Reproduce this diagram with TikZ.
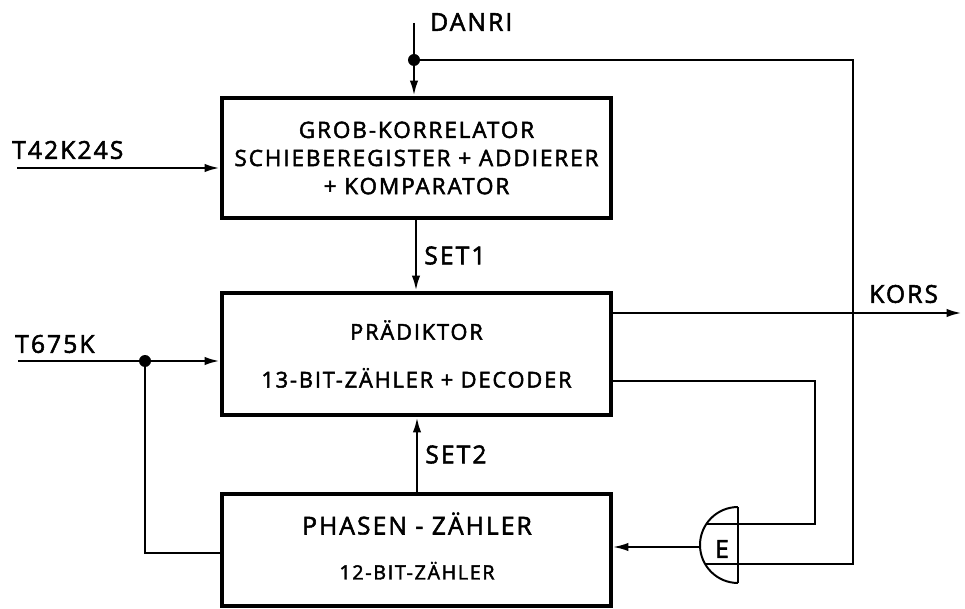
\documentclass[tikz,border=0pt]{standalone}
\usepackage{fontspec}
\setmainfont{Open Sans}[LetterSpace=8.5,UprightFeatures={FakeBold=2.2}]
\usepackage{tikz}
\usetikzlibrary{arrows.meta,calc}

\begin{document}
\begin{tikzpicture}[x=0.025cm,y=0.025cm,>={Latex[length=11pt,width=6pt]},
    block/.style={draw,line width=2.8pt,minimum width=9.725cm,align=center,inner sep=0pt},
    sig/.style={line width=1.9pt},
    thin sig/.style={line width=1.4pt},
    lbl/.style={font=\fontsize{17.5}{20}\selectfont,inner sep=0pt}]
  \useasboundingbox (0,0) rectangle (965,-609);
  % blocks
  \node[block,minimum height=3.0cm,font=\fontsize{16}{20}\selectfont] (grob) at (416.5,-158)
    {GROB-KORRELATOR\\
     SCHIEBEREGISTER + ADDIERER\\
     + KOMPARATOR};
  \node[block,minimum height=3.05cm,font=\fontsize{15.5}{19}\selectfont] (pred) at (416.5,-354)
    {PRÄDIKTOR\\[15pt]
     13-BIT-ZÄHLER + DECODER};
  \node[block,minimum height=2.8cm] (phase) at (416.5,-550) {};
  \node[align=center,inner sep=0pt,font=\fontsize{14}{17}\selectfont] (phasetxt) at (417,-546)
    {{\fontsize{17.5}{20}\selectfont PHASEN - ZÄHLER}\\[15pt]
     12-BIT-ZÄHLER};
  % gate E
  \draw[thin sig] (738,-507) -- (738,-583);
  \draw[thin sig] (738,-507) arc[start angle=90,end angle=270,radius=38];
  \node[lbl] (gate) at (722,-549) {E};
  \coordinate (gin1) at (706,-524);
  \coordinate (gin2) at (705,-564);
  \coordinate (gout) at (700,-547);
  % inputs
  \coordinate (danri) at (414,-23);
  \coordinate (j1) at (414,-60);
  \coordinate (t42) at (17,-168);
  \coordinate (t675) at (18,-361);
  \coordinate (j2) at (145,-361);
  \node[lbl,anchor=west] (ldanri) at (430,-22) {DANRI};
  \node[lbl,anchor=west] (lt42) at (12,-150) {T42K24S};
  \node[lbl,anchor=west] (lt675) at (15,-344) {T675K};
  \draw[sig,->] (danri) -- (grob.north -| danri);
  \fill (j1) circle (6);
  \draw[thin sig] (j1) -- (853,-60) -- (853,-564) -- (gin2);
  \draw[sig,->] (t42) -- (grob.west |- t42);
  \draw[sig,->] (t675) -- (pred.west |- t675);
  \fill (j2) circle (6);
  \draw[thin sig] (j2) -- (145,-553) -- (phase.west |- 145,-553);
  % between blocks
  \draw[sig,->] (grob.south -| 416,0) -- (pred.north -| 416,0)
    node[lbl,midway,right=5pt] (lset1) {SET1};
  \draw[sig,->] (phase.north -| 417,0) -- (pred.south -| 417,0)
    node[lbl,midway,right=5pt] (lset2) {SET2};
  % outputs
  \draw[sig,->] (pred.east |- 0,-313) -- (962,-313);
  \node[lbl,anchor=west] (lkors) at (869,-294) {KORS};
  \draw[thin sig] (pred.east |- 0,-381) -- (815,-381) -- (815,-524) -- (gin1);
  \draw[thin sig,->] (gout) -- (phase.east |- gout);
\end{tikzpicture}
\end{document}
